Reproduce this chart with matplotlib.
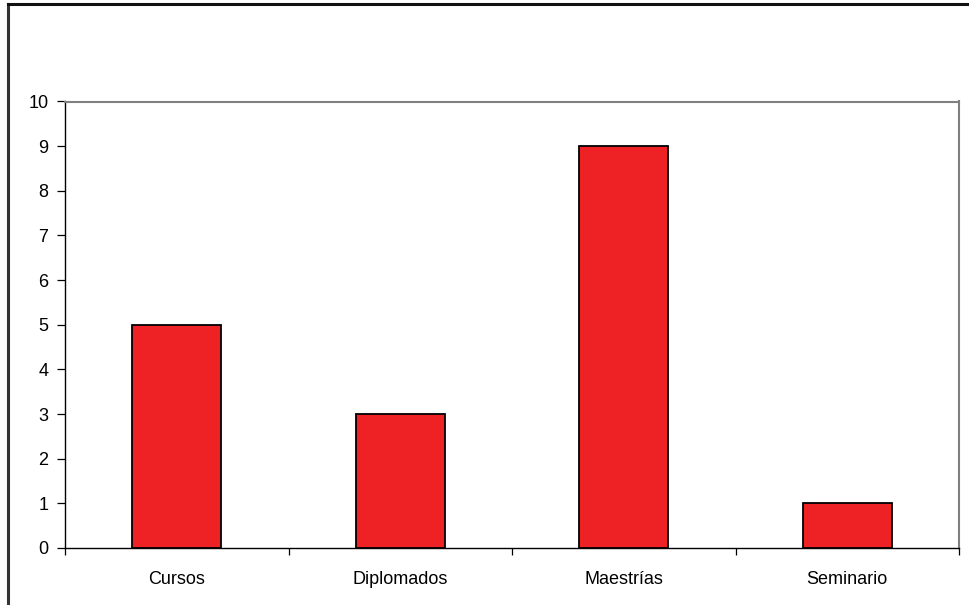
import matplotlib
matplotlib.use("Agg")
import matplotlib.pyplot as plt
from matplotlib.lines import Line2D
import numpy as np

categories = ["Cursos", "Diplomados", "Maestrías", "Seminario"]
values = [5, 3, 9, 1]
yticks = list(range(0, 11))

plt.rcParams['font.family'] = ['Liberation Sans', 'DejaVu Sans']

W, H = 969, 605
fig = plt.figure(figsize=(W / 100, H / 100), dpi=100)

# outer frame lines (left and top)
fig.add_artist(Line2D([8 / W, 8 / W], [0, 1 - 4 / H], transform=fig.transFigure,
                      color='#333333', lw=2.2))
fig.add_artist(Line2D([8 / W, 1], [1 - 4 / H, 1 - 4 / H], transform=fig.transFigure,
                      color='#111111', lw=2.2))

left, right, top, bottom = 65, 959, 101.5, 548
ax = fig.add_axes([left / W, 1 - bottom / H, (right - left) / W, (bottom - top) / H])

x = np.arange(len(categories))
ax.bar(x, values, width=0.4, color='#EE2225', edgecolor='black', linewidth=1.3, zorder=3)

ax.set_xlim(-0.5, len(categories) - 0.5)
ax.set_ylim(0, 10)
ax.set_yticks(yticks)
ax.set_yticklabels([str(t) for t in yticks])

ax.set_xticks(x)
ax.set_xticklabels(categories)
ax.set_xticks(np.arange(len(categories) + 1) - 0.5, minor=True)
ax.tick_params(axis='x', which='major', length=0, pad=16.5, labelsize=13)
ax.tick_params(axis='x', which='minor', length=5, width=0.9, direction='out', color='black')
ax.tick_params(axis='y', length=6, width=0.9, direction='out', pad=6, labelsize=13, color='black')

for s in ['top', 'right']:
    ax.spines[s].set_color('#808080')
    ax.spines[s].set_linewidth(1.5)
for s in ['left', 'bottom']:
    ax.spines[s].set_color('black')
    ax.spines[s].set_linewidth(1.0)

fig.savefig("out.png", dpi=100)
